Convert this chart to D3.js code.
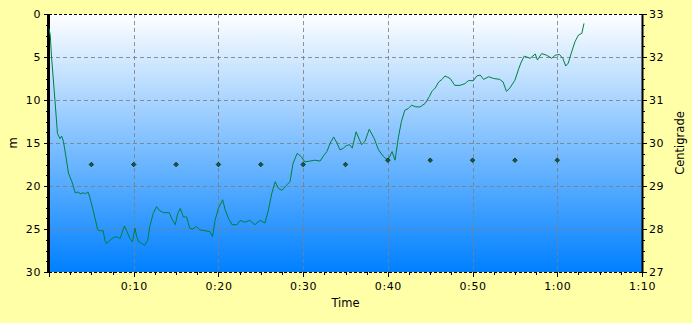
<!DOCTYPE html>
<html>
<head>
<meta charset="utf-8">
<script src="https://cdn.jsdelivr.net/npm/d3@7"></script>
<style>
  body { margin: 0; background: #ffffa8; }
  text { font-family: "DejaVu Sans", sans-serif; }
</style>
</head>
<body>
<script>
// depth profile (minutes, metres)
const times = [0.0, 0.15, 0.3, 0.7, 1.0, 1.3, 1.5, 1.7, 2.0, 2.3, 2.7, 3.1, 3.4, 3.7, 4.05, 4.3, 4.6, 4.85,
  5.2, 5.4, 5.75, 6.0, 6.4, 6.6, 6.8, 7.2, 7.6, 8.0, 8.4, 8.9, 9.2, 9.55, 9.85, 10.15, 10.35, 10.6, 10.95,
  11.3, 11.65, 11.9, 12.3, 12.7, 13.0, 13.5, 14.2, 14.5, 14.9, 15.2, 15.5, 15.85, 16.25, 16.6, 17.0, 17.4,
  17.8, 18.4, 19.0, 19.3, 19.6, 20.0, 20.5, 20.8, 21.2, 21.6, 22.2, 22.55, 23.1, 23.7, 24.3, 24.9, 25.5,
  25.9, 26.3, 26.7, 27.1, 27.5, 28.05, 28.45, 28.8, 29.3, 29.8, 30.2, 30.8, 31.4, 32.0, 32.4, 32.8, 33.2,
  33.6, 34.0, 34.35, 34.75, 35.1, 35.5, 35.8, 36.25, 36.9, 37.3, 37.8, 38.4, 38.9, 39.5, 40.0, 40.5, 40.85,
  41.25, 41.6, 42.0, 42.4, 42.8, 43.3, 43.8, 44.4, 44.9, 45.2, 45.6, 46.0, 46.4, 46.75, 47.35, 47.9, 48.5,
  49.1, 49.5, 50.1, 50.5, 50.9, 51.3, 51.9, 52.5, 53.2, 53.6, 54.0, 54.4, 55.0, 55.4, 55.7, 56.1, 56.8,
  57.4, 57.65, 58.15, 58.75, 59.35, 59.75, 60.25, 60.65, 61.0, 61.3, 61.7, 62.1, 62.5, 62.9, 63.15];
const depths = [1.7, 2.5, 5, 10, 13.9, 14.5, 14.2, 14.8, 16.6, 18.5, 19.5, 20.8, 20.7, 20.9, 20.8, 20.9, 20.7, 21.4,
  22.8, 23.6, 25.1, 25.2, 25.2, 26.3, 26.7, 26.3, 26.0, 25.9, 26.1, 24.65, 25.3, 26.1, 26.5, 24.9, 25.9, 26.5, 26.7,
  26.9, 26.3, 24.7, 23.2, 22.4, 22.8, 23.1, 23.1, 23.8, 24.5, 23.2, 22.6, 23.6, 23.6, 24.9, 25.0, 24.7,
  25.1, 25.2, 25.3, 25.9, 24.0, 22.6, 21.6, 22.8, 23.8, 24.5, 24.5, 24.0, 24.2, 24.0, 24.5, 24.0, 24.3,
  22.8, 20.85, 19.5, 20.3, 20.5, 19.9, 19.5, 17.4, 16.2, 16.6, 17.2, 17.1, 17.0, 17.1, 16.5, 16.0, 15.0,
  14.3, 15.0, 15.8, 15.6, 15.3, 15.2, 15.6, 13.7, 15.2, 14.8, 13.4, 14.5, 15.8, 16.6, 17.0, 16.0, 17.0,
  14.3, 12.5, 11.2, 11.0, 10.6, 10.8, 10.8, 10.4, 9.6, 9.0, 8.6, 7.9, 7.6, 7.2, 7.5, 8.3, 8.3,
  8.1, 7.75, 7.75, 7.2, 7.1, 7.6, 7.3, 7.5, 7.6, 7.9, 9.0, 8.6, 7.7, 6.5, 5.7, 4.9, 5.15,
  4.65, 5.35, 4.6, 4.8, 5.15, 4.8, 4.7, 5.15, 6.05, 5.7, 4.4, 3.2, 2.45, 2.25, 1.1];

// temperature samples (minutes, centigrade)
const tempTimes = [5, 10, 15, 20, 25, 30, 35, 40, 45, 50, 55, 60];
const temps = [29.5, 29.5, 29.5, 29.5, 29.5, 29.5, 29.5, 29.6, 29.6, 29.6, 29.6, 29.6];

const timeTicks = [0, 10, 20, 30, 40, 50, 60, 70];
const depthTicks = [0, 5, 10, 15, 20, 25, 30];
const tempTicks = [27, 28, 29, 30, 31, 32, 33];

const W = 692, H = 323;
const pLeft = 49, pRight = 642, pTop = 14, pBottom = 272;

const svg = d3.select('body').append('svg')
  .attr('width', W)
  .attr('height', H)
  .style('display', 'block');

svg.append('rect').attr('width', W).attr('height', H).attr('fill', '#ffffa8');

const grad = svg.append('defs').append('linearGradient')
  .attr('id', 'bg').attr('x1', 0).attr('y1', 0).attr('x2', 0).attr('y2', 1);
grad.append('stop').attr('offset', '0%').attr('stop-color', '#ffffff');
grad.append('stop').attr('offset', '100%').attr('stop-color', '#0080ff');

const x = d3.scaleLinear().domain([0, 70]).range([pLeft, pRight]);
const y = d3.scaleLinear().domain([0, 30]).range([pTop, pBottom]);
const yT = d3.scaleLinear().domain([27, 33]).range([pBottom, pTop]);

svg.append('rect')
  .attr('x', pLeft).attr('y', pTop)
  .attr('width', pRight - pLeft).attr('height', pBottom - pTop)
  .attr('fill', 'url(#bg)');

// grid
const grid = svg.append('g')
  .attr('stroke', '#7f7f7f')
  .attr('stroke-opacity', 0.85)
  .attr('stroke-dasharray', '4,3')
  .attr('shape-rendering', 'crispEdges');
grid.selectAll('.gx').data(timeTicks.slice(1, -1)).enter().append('line')
  .attr('x1', d => Math.round(x(d)) + 0.5).attr('x2', d => Math.round(x(d)) + 0.5)
  .attr('y1', pTop).attr('y2', pBottom);
grid.selectAll('.gy').data(depthTicks.slice(1, -1)).enter().append('line')
  .attr('x1', pLeft).attr('x2', pRight)
  .attr('y1', d => Math.round(y(d)) + 0.5).attr('y2', d => Math.round(y(d)) + 0.5);

// dashed top / bottom frame
svg.selectAll('.frame').data([pTop, pBottom]).enter().append('line')
  .attr('x1', pLeft).attr('x2', pRight)
  .attr('y1', d => d + 0.5).attr('y2', d => d + 0.5)
  .attr('stroke', '#000').attr('stroke-dasharray', '3,2')
  .attr('shape-rendering', 'crispEdges');

// axes
function minorTicks(scale, step) {
  const [a, b] = scale.domain().slice().sort((p, q) => p - q);
  return d3.range(a, b + step / 2, step);
}

const fmtTime = d => d === 0 ? '' : Math.floor(d / 60) + ':' + d3.format('02')(d % 60);

const xAxis = svg.append('g').attr('transform', `translate(0,${pBottom})`);
xAxis.call(d3.axisBottom(x).tickValues(minorTicks(x, 2.5)).tickSize(3).tickFormat(''));
xAxis.append('g').call(d3.axisBottom(x).tickValues(timeTicks).tickSize(5).tickPadding(5).tickFormat(fmtTime));

const yAxis = svg.append('g').attr('transform', `translate(${pLeft},0)`);
yAxis.call(d3.axisLeft(y).tickValues(minorTicks(y, 1.25)).tickSize(3).tickFormat(''));
yAxis.append('g').call(d3.axisLeft(y).tickValues(depthTicks).tickSize(5).tickPadding(3));

const rAxis = svg.append('g').attr('transform', `translate(${pRight},0)`);
rAxis.call(d3.axisRight(yT).tickValues(minorTicks(yT, 0.25)).tickSize(3).tickFormat(''));
rAxis.append('g').call(d3.axisRight(yT).tickValues(tempTicks).tickSize(5).tickPadding(2).tickFormat(d3.format('d')));

svg.selectAll('.domain').remove();
svg.selectAll('.tick line').attr('stroke', '#000').attr('shape-rendering', 'crispEdges');
svg.selectAll('.tick text')
  .attr('font-family', '"DejaVu Sans", sans-serif')
  .attr('font-size', 11)
  .attr('fill', '#000')
  .style('letter-spacing', '0.6px');

// thick vertical axis lines
svg.append('line').attr('x1', pLeft - 0.5).attr('x2', pLeft - 0.5)
  .attr('y1', pTop).attr('y2', pBottom + 1).attr('stroke', '#000').attr('stroke-width', 3);
svg.append('line').attr('x1', pRight + 0.5).attr('x2', pRight + 0.5)
  .attr('y1', pTop).attr('y2', pBottom + 1).attr('stroke', '#000').attr('stroke-width', 2);

// depth line
const depthData = times.map((t, i) => [t, depths[i]]);
svg.append('path')
  .datum(depthData)
  .attr('fill', 'none')
  .attr('stroke', '#00803f')
  .attr('stroke-width', 1)
  .attr('d', d3.line().x(d => x(d[0])).y(d => y(d[1])));

// temperature markers (small diamonds)
svg.selectAll('.temp').data(tempTimes).enter().append('path')
  .attr('transform', (d, i) => `translate(${x(d)},${yT(temps[i])}) rotate(45)`)
  .attr('d', d3.symbol().type(d3.symbolSquare).size(10))
  .attr('fill', '#1d5a3a')
  .attr('stroke', '#0a2a1a')
  .attr('stroke-width', 0.8);

// axis titles
svg.append('text')
  .attr('x', (pLeft + pRight) / 2).attr('y', 307)
  .attr('text-anchor', 'middle').attr('font-size', 11.5)
  .text('Time');
svg.append('text')
  .attr('transform', `translate(17,${(pTop + pBottom) / 2}) rotate(-90)`)
  .attr('text-anchor', 'middle').attr('font-size', 11.5)
  .text('m');
svg.append('text')
  .attr('transform', `translate(684,${(pTop + pBottom) / 2}) rotate(-90)`)
  .attr('text-anchor', 'middle').attr('font-size', 11.5)
  .text('Centigrade');
</script>
</body>
</html>
